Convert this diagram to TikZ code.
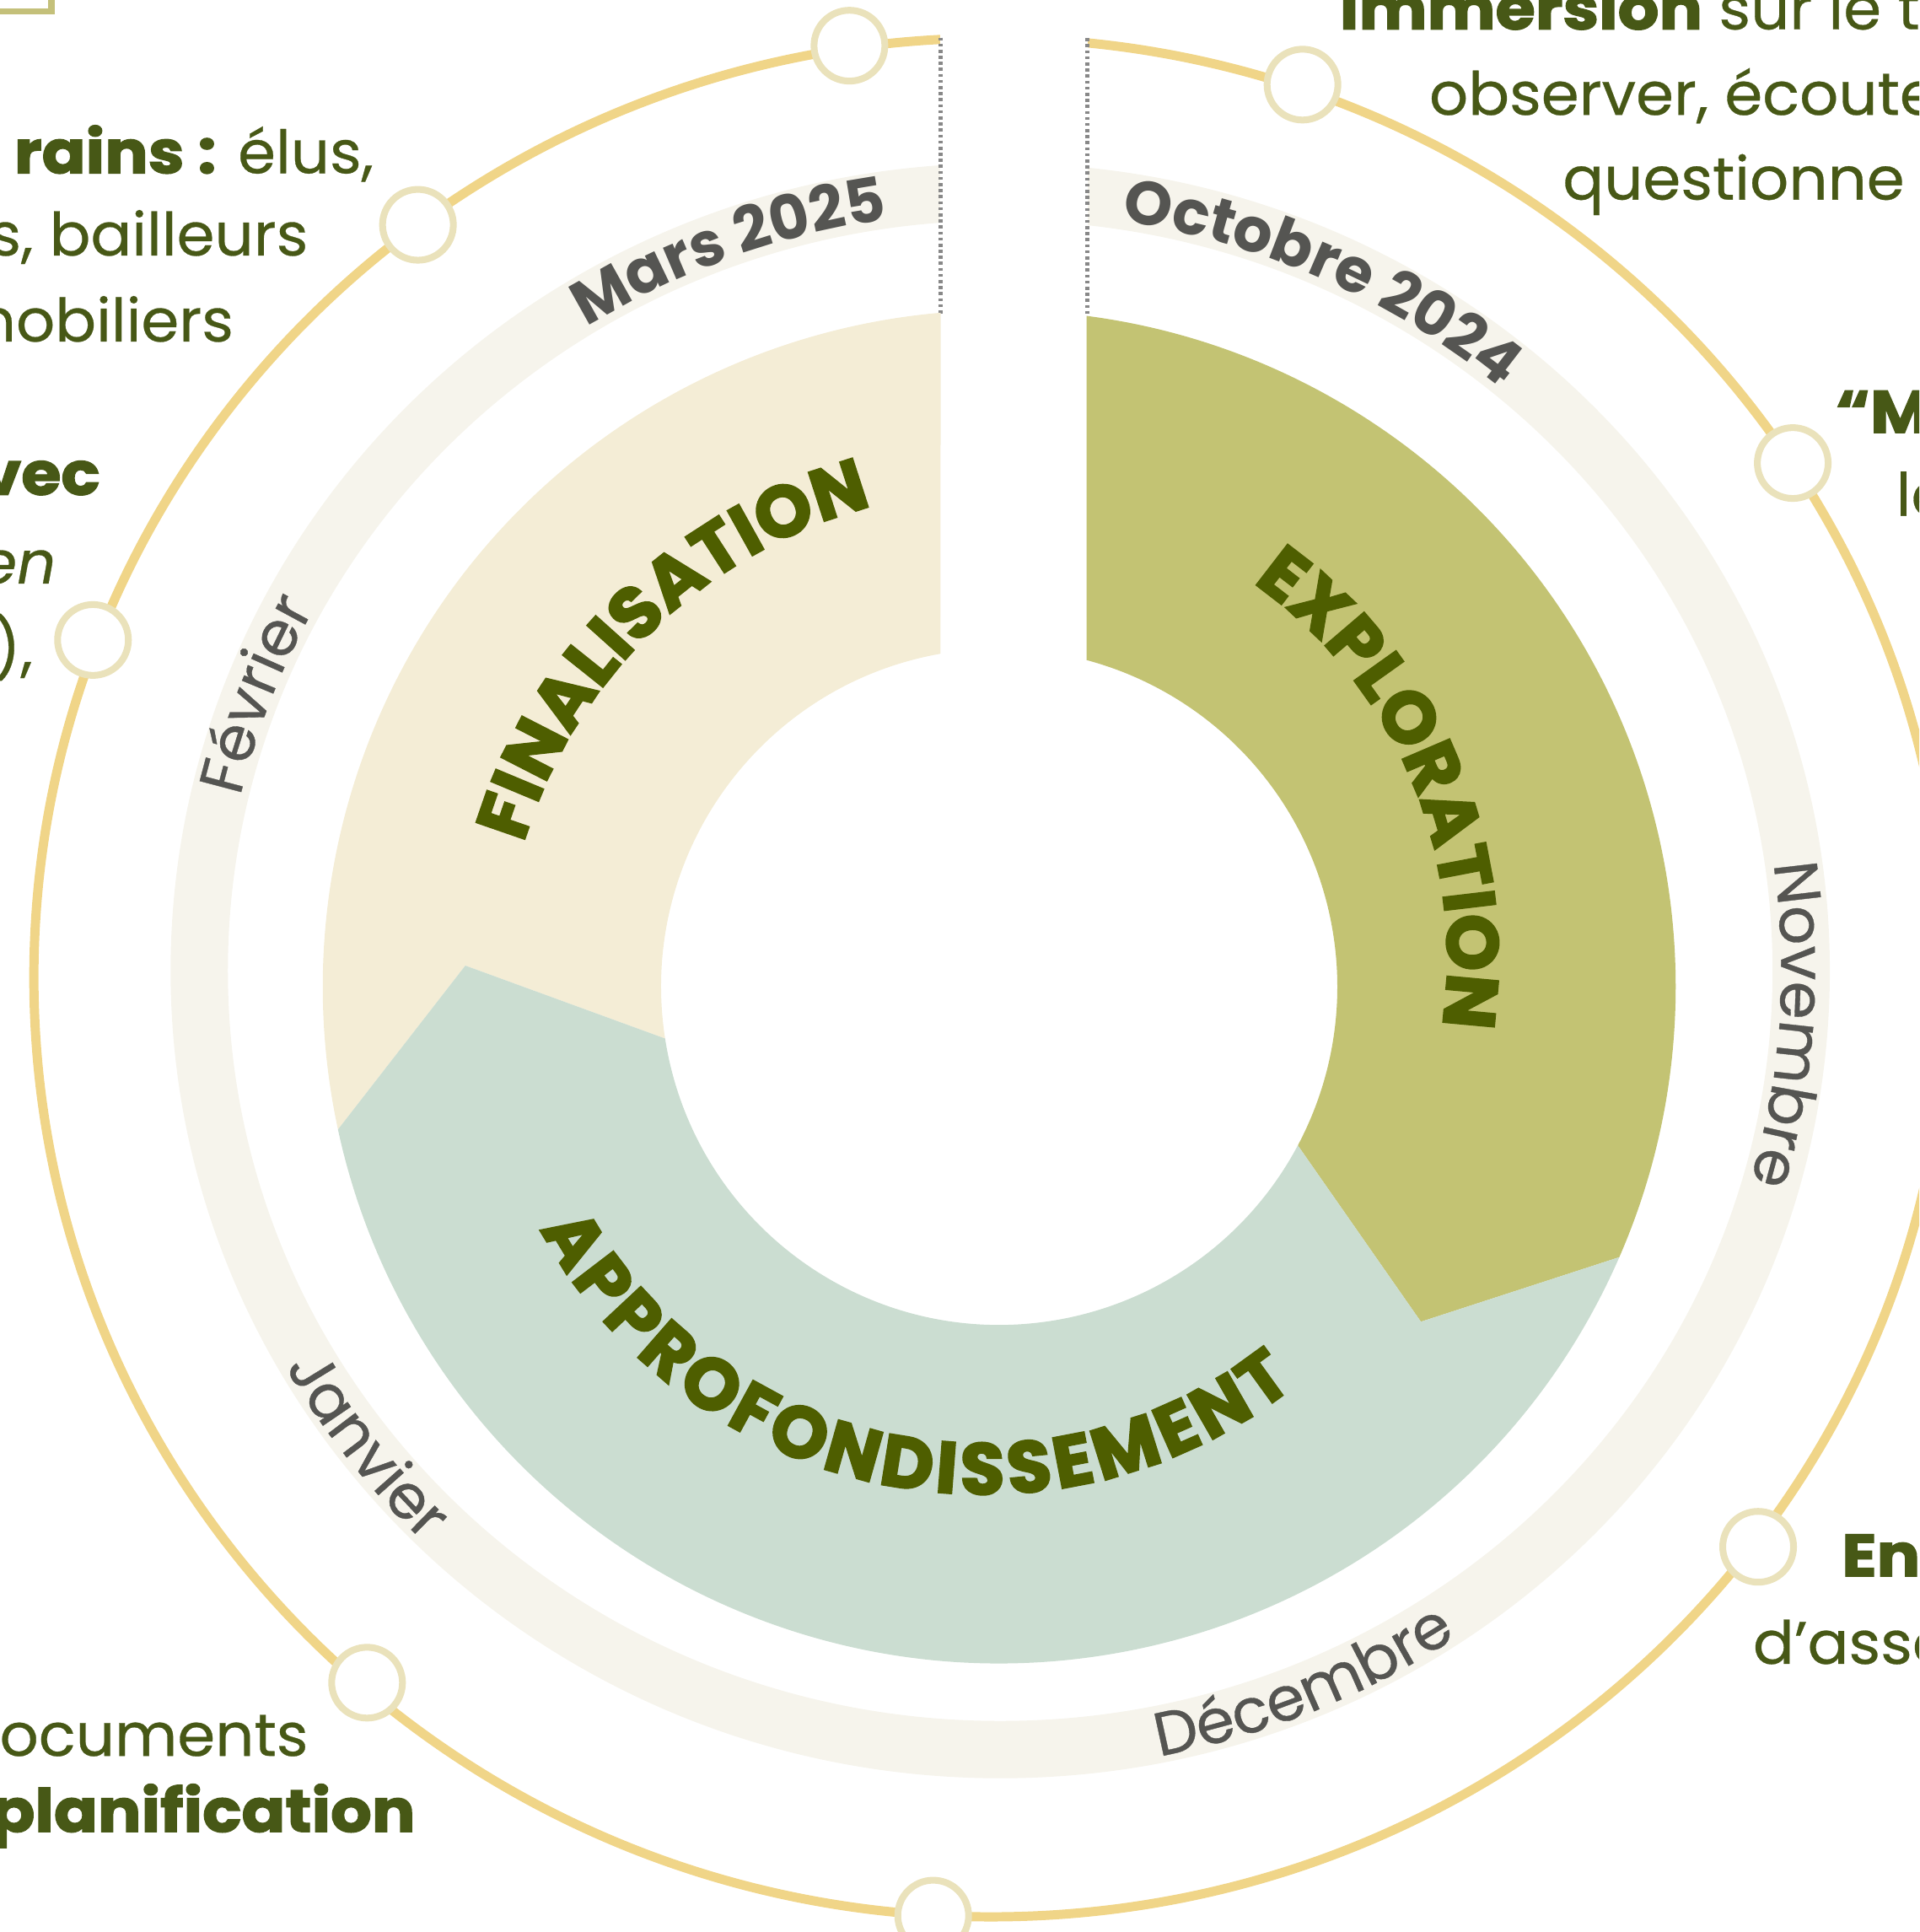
\documentclass[tikz,border=0pt]{standalone}
\usepackage{fontspec}
\setmainfont{Poppins}
\newfontfamily\bodyfont{Poppins}[UprightFeatures={FakeStretch=1.02, FakeBold=0.4}, ItalicFeatures={FakeStretch=1.02, FakeBold=0.4}, BoldFeatures={FakeStretch=1.08, FakeBold=2}]
\newfontfamily\phasefam{Poppins}[BoldFeatures={FakeBold=3}]
\newfontfamily\moisfam{Poppins}[UprightFeatures={FakeBold=0.5}]
\usetikzlibrary{calc,decorations.text}

\definecolor{cJaune}{HTML}{F0D588}
\definecolor{cBande}{HTML}{F6F4EC}
\definecolor{cExplo}{HTML}{C3C373}
\definecolor{cAppro}{HTML}{CBDDD1}
\definecolor{cFinal}{HTML}{F4EDD6}
\definecolor{cJalon}{HTML}{EAE2BB}
\definecolor{cVertTexte}{HTML}{475816}
\definecolor{cVertPhase}{HTML}{4E5E00}
\definecolor{cGris}{HTML}{555552}
\definecolor{cPointille}{HTML}{888888}
\definecolor{cCadre}{HTML}{C4C07A}

\newcommand\phasefont{\phasefam\fontsize{16.7}{20}\selectfont\bfseries}
\newcommand\moisfont{\moisfam\fontsize{14.2}{17}\selectfont}
\newcommand\moisgras{\moisfam\fontsize{14.2}{17}\selectfont\bfseries}

\tikzset{
  jalon/.style={circle, draw=cJalon, fill=white, line width=0.55mm, minimum size=5.75mm, inner sep=0pt},
  pointille/.style={cPointille, line width=0.3mm, dash pattern=on 0.7pt off 0.7pt},
  texte/.style={inner sep=0pt, text=cVertTexte, font=\bodyfont\fontsize{13.8}{19.6}\selectfont},
  texteD/.style={texte, anchor=base west},
  texteG/.style={texte, anchor=base east},
  phase/.style={decorate, decoration={text along path, text align=fit to path, text color=cVertPhase, text={|\phasefont|#1}}},
  mois/.style={decorate, decoration={text along path, text align=center, text color=cGris, text={|\moisfont|#1}}},
  moisbold/.style={decorate, decoration={text along path, text align=center, text color=cGris, text={|\moisgras|#1}}},
}

\begin{document}
\begin{tikzpicture}[x=0.1mm, y=0.1mm]
  % cadre de l'image
  \useasboundingbox (-811.2,-767.3) rectangle (746.85,801);
  \clip (-811.2,-767.3) rectangle (746.85,801);
  % anneau jaune et bande des mois
  \draw[cJaune, line width=0.75mm] (-6.7,7.5) ellipse [x radius=777, y radius=762.5];
  \coordinate (bande) at (0.8,13);
  \fill[cBande, even odd rule] (bande) ellipse [x radius=673.5, y radius=655.5]
    (bande) ellipse [x radius=627, y radius=609];
  % coupure en haut
  \fill[white] (-47.6,300) rectangle (71.6,820);
  \coordinate (hautG) at (-47.6,770.5);
  \coordinate (basG) at (-47.6,546);
  \coordinate (hautD) at (71.6,770);
  \coordinate (basD) at (71.6,544.6);
  \draw[pointille] (hautG) -- (basG);
  \draw[pointille] (hautD) -- (basD);
  % les trois phases
  \fill[cFinal] (94.97:549.2) arc[start angle=94.97, end angle=192.18, radius=549.2]
    -- (177.73:433.8) -- (188.81:274.5) arc[start angle=188.81, end angle=99.99, radius=274.5] -- cycle;
  \fill[cExplo] (82.57:549.2) arc[start angle=82.57, end angle=-23.56, radius=549.2]
    -- (-38.46:437.2) -- (-27.98:274.5) arc[start angle=-27.98, end angle=75.01, radius=274.5] -- cycle;
  \fill[cAppro] (-27.98:274.5) -- (-38.46:437.2) -- (-23.56:549.2)
    arc[start angle=-23.56, end angle=-167.82, radius=549.2]
    -- (-182.27:433.8) -- (-171.19:274.5) arc[start angle=-171.19, end angle=-27.98, radius=274.5] -- cycle;
  \path[phase=FINALISATION] (163.2:403.5) arc[start angle=163.2, end angle=104.8, radius=403.5];
  \path[phase=EXPLORATION] ($(-8.8,23.6)+(54.8:372.6)$) arc[start angle=54.8, end angle=-8.6, radius=372.6];
  \path[phase=APPROFONDISSEMENT] ($(-13.1,-4.1)+(-151.8:407.8)$) arc[start angle=-151.8, end angle=-51.7, radius=407.8];
  % mois
  \path[moisbold=Mars 2025] ($(bande)+(135.2:634 and 616)$) arc[start angle=135.2, end angle=85.2, x radius=634, y radius=616];
  \path[moisbold=Octobre 2024] ($(bande)+(90.5:634 and 616)$) arc[start angle=90.5, end angle=40.5, x radius=634, y radius=616];
  \path[mois=Novembre] ($(bande)+(21:634 and 616)$) arc[start angle=21, end angle=-29, x radius=634, y radius=616];
  \path[mois=Février] ($(bande)+(184.2:634 and 616)$) arc[start angle=184.2, end angle=134.2, x radius=634, y radius=616];
  \path[mois=Décembre] ($(bande)+(-92.5:668 and 650)$) arc[start angle=-92.5, end angle=-42.5, x radius=668, y radius=650];
  \path[mois=Janvier] ($(bande)+(192.5:668 and 650)$) arc[start angle=192.5, end angle=242.5, x radius=668, y radius=650];
  % jalons sur l'anneau
  \foreach \p [count=\i] in {(-121.6,763.9), (-471.9,618.5), (-735.7,281.5), (-513.2,-564.9),
      (-53.6,-754), (246.2,732.3), (644.2,425.1), (616.1,-454.6)} {
    \node[jalon] (j\i) at \p {};
  }
  % textes a droite
  \node[texteD] (immersion) at (275.8,777.2) {\textbf{Immersion} sur le t};
  \node[texteD] (observer) at (348.4,707.8) {observer, écoute};
  \node[texteD] (questionner) at (456.8,639) {questionne};
  \node[texteD] (citation) at (678.2,449.7) {\textbf{“M}};
  \node[texteD] (le) at (727.4,382.3) {le};
  \node[texteD] (entretiens) at (683.3,-478.6) {\textbf{En}};
  \node[texteD] (asso) at (611.2,-549.6) {d’asso};
  % textes a gauche
  \node[texteG] (terrains) at (-507.2,660.4) {\textbf{rains :} élus,};
  \node[texteG] (bailleurs) at (-560.3,593.6) {s, bailleurs};
  \node[texteG] (immobiliers) at (-620.9,523.8) {mobiliers};
  \node[texteG] (avec) at (-729.2,399.4) {\textbf{vec}};
  \node[texteG] (italique) at (-765,327.3) {\textit{en}};
  \node[texteG] (parenthese) at (-783.9,257.5) {),};
  \node[texteG] (documents) at (-560.3,-624.3) {ocuments};
  \node[texteG] (planif) at (-473.4,-686) {\textbf{planification}};
  % coin de cadre en haut a gauche
  \draw[cCadre, line width=0.5mm] (-830,900) rectangle (-769.5,791.6);
\end{tikzpicture}
\end{document}
